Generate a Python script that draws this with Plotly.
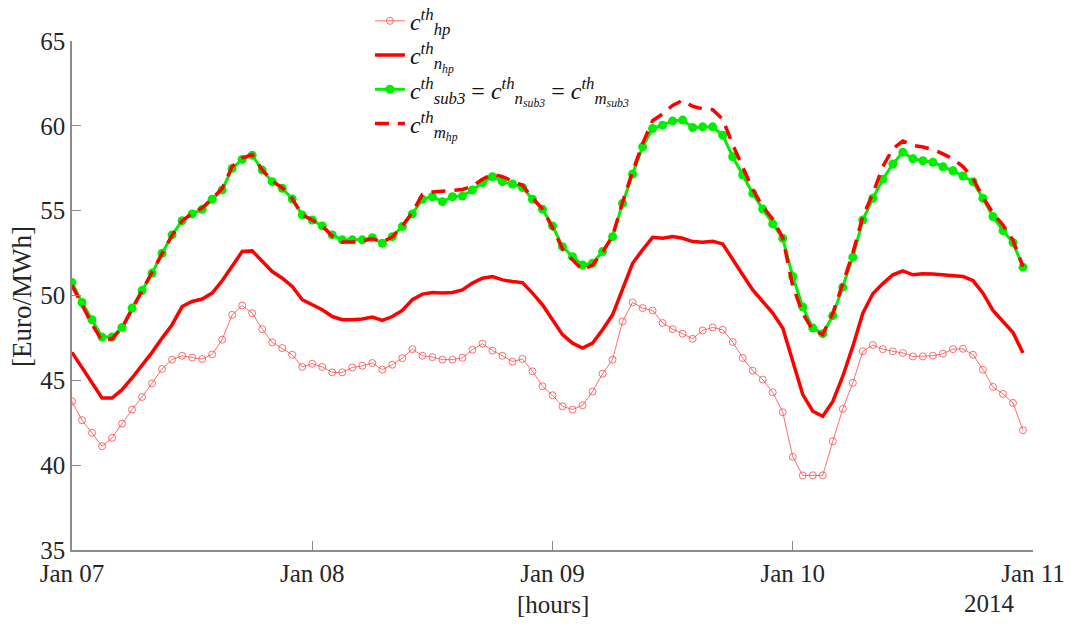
import pandas as pd
import plotly.graph_objects as go

# ---------------- data ----------------
start = "2014-01-07 00:00"
n_hours = 96
hours = pd.date_range(start, periods=n_hours, freq="h")

c_hp = [43.76, 42.65, 41.9, 41.12, 41.61, 42.45, 43.28, 44.02, 44.82, 45.67,
        46.22, 46.45, 46.34, 46.26, 46.53, 47.4, 48.86, 49.41, 48.96, 48.02,
        47.24, 46.9, 46.51, 45.79, 45.98, 45.79, 45.47, 45.47, 45.76, 45.86,
        46.02, 45.63, 45.92, 46.31, 46.84, 46.45, 46.37, 46.22, 46.22, 46.33,
        46.8, 47.16, 46.75, 46.45, 46.1, 46.26, 45.53, 44.65, 44.12, 43.47,
        43.28, 43.53, 44.34, 45.39, 46.22, 48.47, 49.59, 49.26, 49.12, 48.38,
        48.02, 47.75, 47.45, 47.94, 48.12, 47.98, 47.26, 46.32, 45.57, 45.04,
        44.29, 43.12, 40.49, 39.39, 39.4, 39.4, 41.41, 43.32, 44.85, 46.71,
        47.08, 46.84, 46.71, 46.61, 46.41, 46.41, 46.45, 46.57, 46.84, 46.86,
        46.51, 45.63, 44.61, 44.2, 43.67, 42.06]

c_n_hp = [46.65, 45.75, 44.85, 43.96, 43.96, 44.45, 45.14, 45.86, 46.65, 47.49,
          48.28, 49.35, 49.65, 49.79, 50.14, 50.87, 51.71, 52.59, 52.63, 52.0,
          51.41, 51.02, 50.53, 49.75, 49.45, 49.16, 48.76, 48.57, 48.57, 48.61,
          48.73, 48.53, 48.76, 49.12, 49.75, 50.08, 50.18, 50.14, 50.18, 50.33,
          50.73, 51.02, 51.12, 50.92, 50.82, 50.76, 50.14, 49.45, 48.57, 47.69,
          47.19, 46.9, 47.19, 47.98, 48.86, 50.33, 51.9, 52.69, 53.43, 53.37,
          53.47, 53.37, 53.18, 53.14, 53.2, 53.04, 52.1, 51.22, 50.33, 49.65,
          48.96, 48.08, 46.1, 44.16, 43.18, 42.88, 43.76, 45.24, 47.0, 48.96,
          50.1, 50.7, 51.22, 51.45, 51.22, 51.28, 51.26, 51.22, 51.16, 51.12,
          50.88, 50.14, 49.12, 48.47, 47.82, 46.61]

c_sub3 = [50.76, 49.59, 48.57, 47.55, 47.55, 48.12, 49.26, 50.29, 51.32, 52.49,
          53.57, 54.41, 54.81, 55.08, 55.67, 56.22, 57.49, 58.02, 58.27, 57.39,
          56.71, 56.32, 55.69, 54.75, 54.45, 54.1, 53.57, 53.28, 53.28, 53.28,
          53.41, 53.08, 53.47, 54.06, 54.81, 55.67, 55.82, 55.53, 55.82, 55.86,
          56.22, 56.65, 57.0, 56.71, 56.57, 56.37, 55.67, 55.08, 54.1, 52.88,
          52.29, 51.8, 51.9, 52.59, 53.47, 55.43, 57.16, 58.76, 59.84, 60.04,
          60.29, 60.34, 59.9, 59.94, 59.94, 59.45, 58.18, 57.1, 56.02, 55.1,
          54.22, 53.37, 51.12, 49.32, 48.08, 47.75, 48.81, 50.49, 52.26, 54.45,
          55.73, 56.85, 57.75, 58.45, 58.06, 57.94, 57.85, 57.59, 57.35, 57.04,
          56.71, 55.73, 54.65, 53.82, 53.12, 51.67]

c_m_hp = [50.6, 49.4, 48.3, 47.35, 47.45, 48.1, 49.2, 50.2, 51.3, 52.45,
          53.55, 54.4, 54.85, 55.15, 55.75, 56.3, 57.6, 58.1, 58.3, 57.4,
          56.75, 56.35, 55.7, 54.75, 54.45, 54.1, 53.5, 53.15, 53.15, 53.2,
          53.35, 53.15, 53.45, 54.1, 54.9, 55.95, 56.1, 56.15, 56.2, 56.25,
          56.45, 56.85, 57.15, 57.0, 56.75, 56.5, 55.75, 55.1, 54.0, 52.75,
          52.1, 51.5, 51.8, 52.55, 53.5, 55.5, 57.3, 58.95, 60.3, 60.7,
          61.2, 61.5, 61.15, 61.0, 60.95, 60.4, 58.9, 57.6, 56.25, 55.25,
          54.5, 53.4, 50.55, 48.95, 47.95, 47.7, 48.95, 50.7, 52.5, 54.65,
          56.0, 57.6, 58.65, 59.1, 58.85, 58.75, 58.6, 58.35, 58.05, 57.6,
          56.9, 55.8, 54.85, 54.15, 53.25, 51.7]

x_tick_dates = ["2014-01-07", "2014-01-08", "2014-01-09", "2014-01-10", "2014-01-11"]
x_tick_text = ["Jan 07", "Jan 08", "Jan 09", "Jan 10", "Jan 11"]
y_ticks = [35, 40, 45, 50, 55, 60, 65]

names = [
    "<i>c</i><sup><i>th</i></sup><sub><i>hp</i></sub>",
    "<i>c</i><sup><i>th</i></sup><sub><i>n</i><sub><i>hp</i></sub></sub>",
    "<i>c</i><sup><i>th</i></sup><sub><i>sub3</i></sub> = "
    "<i>c</i><sup><i>th</i></sup><sub><i>n</i><sub><i>sub3</i></sub></sub> = "
    "<i>c</i><sup><i>th</i></sup><sub><i>m</i><sub><i>sub3</i></sub></sub>",
    "<i>c</i><sup><i>th</i></sup><sub><i>m</i><sub><i>hp</i></sub></sub>",
]

SERIF = "Liberation Serif"

# ---------------- figure ----------------
fig = go.Figure()
fig.add_trace(go.Scatter(
    x=hours, y=c_hp, name=names[0], mode="lines+markers",
    line=dict(color="rgba(255,60,60,0.75)", width=1),
    marker=dict(symbol="circle-open", size=7,
                line=dict(color="rgba(255,60,60,0.75)", width=1)),
))
fig.add_trace(go.Scatter(
    x=hours, y=c_n_hp, name=names[1], mode="lines",
    line=dict(color="#ff0000", width=3.5),
))
fig.add_trace(go.Scatter(
    x=hours, y=c_sub3, name=names[2], mode="lines+markers",
    line=dict(color="#00ee00", width=3),
    marker=dict(symbol="circle", size=9, color="#00ee00"),
))
fig.add_trace(go.Scatter(
    x=hours, y=c_m_hp, name=names[3], mode="lines",
    line=dict(color="#ff0000", width=3.5, dash="14px,9px"),
))

axis_font = dict(family=SERIF, size=25, color="#262626")

fig.update_xaxes(
    type="date",
    range=[x_tick_dates[0], x_tick_dates[-1]],
    tickmode="array", tickvals=x_tick_dates, ticktext=x_tick_text,
    ticks="inside", ticklen=9, tickcolor="#8c8c8c", tickwidth=1,
    showline=True, linecolor="#8c8c8c", linewidth=1.5,
    showgrid=False, zeroline=False, tickfont=axis_font, automargin=False,
)
fig.update_yaxes(
    range=[35, 65], tickmode="array", tickvals=y_ticks,
    ticks="inside", ticklen=9, tickcolor="#8c8c8c", tickwidth=1,
    showline=True, linecolor="#8c8c8c", linewidth=1.5,
    showgrid=False, zeroline=False, tickfont=axis_font, automargin=False,
)

fig.update_layout(
    width=1072, height=624,
    margin=dict(l=72, r=39, t=41, b=74, autoexpand=False),
    paper_bgcolor="white", plot_bgcolor="white",
    font=axis_font,
    showlegend=True,
    legend=dict(
        x=0.31, y=1.083, xanchor="left", yanchor="top",
        bgcolor="rgba(0,0,0,0)", borderwidth=0,
        font=dict(family=SERIF, size=24, color="#111111"),
        tracegroupgap=0, itemwidth=30,
    ),
    annotations=[
        dict(text="[hours]", xref="paper", yref="paper", x=0.5005, y=-0.108,
             xanchor="center", yanchor="middle", showarrow=False,
             font=dict(family=SERIF, size=25, color="#262626")),
        dict(text="2014", xref="paper", yref="paper", x=0.955, y=-0.105,
             xanchor="center", yanchor="middle", showarrow=False,
             font=dict(family=SERIF, size=25, color="#262626")),
        dict(text="[Euro/MWh]", xref="paper", yref="paper", x=-0.052, y=0.497,
             xanchor="center", yanchor="middle", textangle=-90, showarrow=False,
             font=dict(family=SERIF, size=27, color="#262626")),
    ],
)

fig.write_html("out.html")
